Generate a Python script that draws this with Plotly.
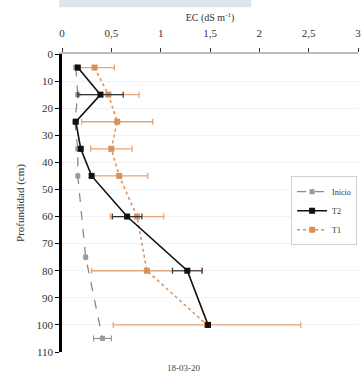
import plotly.graph_objects as go

# Depths (cm) and values
depth_ini = [5, 15, 25, 35, 45, 75, 105]
val_ini = [0.14, 0.16, 0.13, 0.16, 0.16, 0.24, 0.41]
err_ini = [0.0, 0.0, 0.0, 0.0, 0.0, 0.0, 0.09]

depth_t2 = [5, 15, 25, 35, 45, 60, 80, 100]
val_t2 = [0.16, 0.39, 0.14, 0.19, 0.30, 0.66, 1.27, 1.48]
err_t2 = [0.0, 0.23, 0.0, 0.0, 0.0, 0.15, 0.15, 0.0]

depth_t1 = [5, 15, 25, 35, 45, 60, 80, 100]
val_t1 = [0.33, 0.47, 0.56, 0.50, 0.58, 0.76, 0.86, 1.47]
err_t1 = [0.2, 0.31, 0.36, 0.21, 0.29, 0.27, 0.56, 0.95]

x_ticks = [0, 0.5, 1, 1.5, 2, 2.5, 3]
x_labels = ["0", "0,5", "1", "1,5", "2", "2,5", "3"]
y_ticks = [0, 10, 20, 30, 40, 50, 60, 70, 80, 90, 100, 110]

FONT = "Liberation Serif"

ini = go.Scatter(
    x=val_ini, y=depth_ini, name="Inicio", mode="lines+markers",
    line=dict(color="#8a8a8a", width=1.3, dash="dash"),
    marker=dict(symbol="square", size=5, color="#9a9a9a"),
    error_x=dict(type="data", array=err_ini, color="#8a8a8a", thickness=1, width=3),
    legendrank=1,
)
t2 = go.Scatter(
    x=val_t2, y=depth_t2, name="T2", mode="lines+markers",
    line=dict(color="#111111", width=1.6),
    marker=dict(symbol="square", size=6, color="#111111"),
    error_x=dict(type="data", array=err_t2, color="#333333", thickness=1.2, width=3),
    legendrank=2,
)
t1 = go.Scatter(
    x=val_t1, y=depth_t1, name="T1", mode="lines+markers",
    line=dict(color="#d9915a", width=1.5, dash="dot"),
    marker=dict(symbol="square", size=6, color="#d9915a"),
    error_x=dict(type="data", array=err_t1, color="#e3a57a", thickness=1.3, width=3),
    legendrank=3,
)

fig = go.Figure([t1, ini, t2])

fig.update_layout(
    width=364, height=378,
    margin=dict(l=62, r=6, t=54, b=26, autoexpand=False),
    paper_bgcolor="white", plot_bgcolor="white",
    font=dict(family=FONT, size=11, color="#333333"),
    legend=dict(
        x=0.774, y=0.59, xanchor="left", yanchor="top",
        bgcolor="white", bordercolor="#d0d0d0", borderwidth=1,
        font=dict(size=8, color="#333333"), itemwidth=30, tracegroupgap=0,
    ),
    xaxis=dict(
        side="top", range=[0, 3], tickvals=x_ticks, ticktext=x_labels,
        showline=True, linecolor="#bbbbbb", linewidth=2,
        ticks="outside", tickcolor="#333333", ticklen=4,
        ticklabelstandoff=7, ticklabeloverflow="allow",
        showgrid=False, zeroline=False, automargin=False,
        title=dict(text="EC (dS m<sup>-1</sup>)", font=dict(size=10), standoff=3),
    ),
    yaxis=dict(
        range=[110, 0], tickvals=y_ticks,
        showline=True, linecolor="black", linewidth=2.5,
        ticks="outside", tickcolor="black", ticklen=4,
        showgrid=True, gridcolor="#f2f2f2", zeroline=False, automargin=False,
        title=dict(text="Profundidad (cm)", font=dict(size=11), standoff=10),
    ),
    annotations=[
        dict(text="18-03-20", xref="paper", yref="paper", x=0.41, y=-0.054,
             yanchor="middle", showarrow=False, font=dict(size=9, color="#444444")),
    ],
    shapes=[
        dict(type="rect", xref="paper", yref="paper", x0=-0.01, x1=0.64,
             y0=1.157, y1=1.19, fillcolor="#dde6ea", line=dict(width=0), layer="below"),
    ],
)

fig.write_html("out.html", config={"displayModeBar": False},
               post_script="document.body.style.margin='0';")
